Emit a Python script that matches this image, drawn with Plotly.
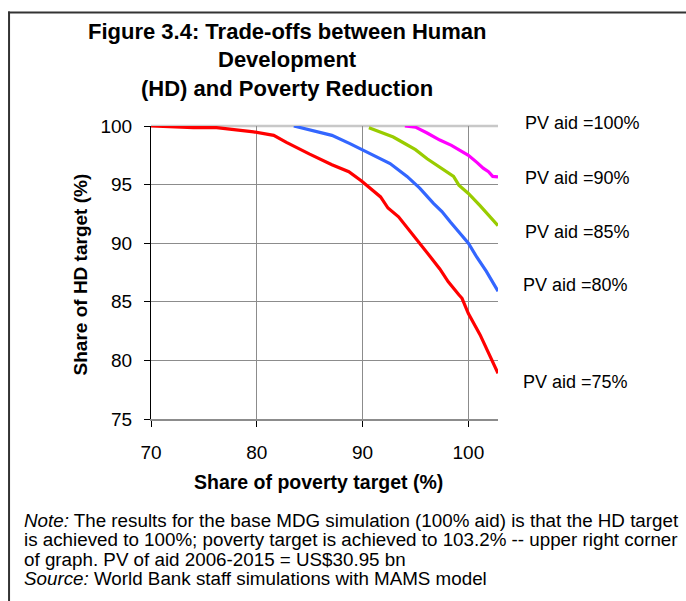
import plotly.graph_objects as go

pov_75 = [70, 74.0, 76.2, 79.7, 81.6, 82.8, 85.0, 87.1, 88.7, 89.9, 91.7, 92.4, 93.4,
          95.1, 96.4, 97.3, 98.1, 99.1, 99.4, 100.0, 101.1, 102.8]
hd_75 = [100, 99.86, 99.86, 99.5, 99.2, 98.6, 97.6, 96.7, 96.1, 95.3, 93.95, 93.0, 92.25,
         90.26, 88.85, 87.8, 86.7, 85.6, 85.3, 84.0, 82.2, 78.9]

pov_80 = [83.5, 85.3, 87.1, 88.8, 89.9, 91.0, 92.6, 94.2, 95.4, 96.7, 97.5, 98.3, 99.4,
          100.0, 100.8, 101.7, 102.8]
hd_80 = [100, 99.6, 99.2, 98.5, 98.0, 97.5, 96.8, 95.7, 94.7, 93.4, 92.7, 91.8, 90.7,
         90.0, 88.8, 87.6, 85.9]

pov_85 = [90.6, 91.96, 92.9, 93.9, 95.0, 96.1, 97.4, 98.6, 99.1, 100.0, 101.1, 102.8]
hd_85 = [99.86, 99.35, 99.06, 98.55, 97.98, 97.2, 96.4, 95.7, 94.95, 94.24, 93.2, 91.5]

pov_90 = [94.0, 95.0, 96.1, 97.3, 98.4, 100.0, 100.8, 101.4, 101.9, 102.3, 102.8]
hd_90 = [100, 99.9, 99.4, 98.8, 98.35, 97.5, 96.9, 96.4, 96.1, 95.7, 95.66]

labels = ["PV aid =100%", "PV aid =90%", "PV aid =85%", "PV aid =80%", "PV aid =75%"]

FONT = "Arial, Liberation Sans, sans-serif"

W, H = 686, 601
# plot area in pixels (from the reference)
X0, X1, Y0, Y1 = 150.7, 498.3, 125.7, 419.3


def px(x):
    return (x - X0) / (X1 - X0)


def py(y):
    return (Y1 - y) / (Y1 - Y0)


fig = go.Figure()
for xs, ys, col in [(pov_75, hd_75, "#FF0000"), (pov_80, hd_80, "#3366FF"),
                    (pov_85, hd_85, "#99CC00"), (pov_90, hd_90, "#FF00FF")]:
    fig.add_trace(go.Scatter(x=xs, y=ys, mode="lines", line=dict(color=col, width=3.2),
                             showlegend=False))

fig.update_xaxes(
    range=[70, 102.8], tickvals=[70, 80, 90, 100], showgrid=True, gridcolor="#8c8c8c",
    gridwidth=1, showline=True, linecolor="#8c8c8c", linewidth=2, ticks="outside",
    ticklen=6, tickcolor="#000000", ticklabelstandoff=9,
    tickfont=dict(size=19, family=FONT, color="#000"), zeroline=False,
)
fig.update_yaxes(
    range=[75, 100], tickvals=[75, 80, 85, 90, 95, 100], showgrid=True, gridcolor="#8c8c8c",
    gridwidth=1, showline=True, linecolor="#000000", linewidth=1, ticks="outside",
    ticklen=6, tickcolor="#000000", ticklabelstandoff=8,
    tickfont=dict(size=19, family=FONT, color="#000"), zeroline=False,
)

shapes = [
    # light top line at 100
    dict(type="line", xref="paper", yref="paper", x0=0, x1=1, y0=1, y1=1,
         line=dict(color="#c8c8c8", width=2.5), layer="below"),
    # frame of the figure box (left and top only)
    dict(type="line", xref="paper", yref="paper", x0=px(8.5), x1=px(8.5), y0=py(11), y1=py(610),
         line=dict(color="#333333", width=2)),
    dict(type="line", xref="paper", yref="paper", x0=px(7.5), x1=px(700), y0=py(12), y1=py(12),
         line=dict(color="#333333", width=2)),
]

ann = []
title_lines = [("Figure 3.4: Trade-offs between Human", 31),
               ("Development", 59), ("(HD) and Poverty Reduction", 88)]
for t, y in title_lines:
    ann.append(dict(text="<b>" + t + "</b>", x=px(287), y=py(y), xref="paper", yref="paper",
                    showarrow=False, xanchor="center", yanchor="middle",
                    font=dict(size=22, family=FONT, color="#000")))

# axis titles
ann.append(dict(text="<b>Share of poverty target (%)</b>", x=px(318), y=py(482),
                xref="paper", yref="paper", showarrow=False, xanchor="center",
                yanchor="middle", font=dict(size=19.5, family=FONT, color="#000")))
ann.append(dict(text="<b>Share of HD target (%)</b>", x=px(81), y=py(274), textangle=-90,
                xref="paper", yref="paper", showarrow=False, xanchor="center",
                yanchor="middle", font=dict(size=19, family=FONT, color="#000")))

label_pos = [(523, 123), (523, 178), (523, 232), (521, 285), (521, 382)]
for t, (x, y) in zip(labels, label_pos):
    ann.append(dict(text=t, x=px(x), y=py(y), xref="paper", yref="paper", showarrow=False,
                    xanchor="left", yanchor="middle",
                    font=dict(size=18, family=FONT, color="#000")))

note_lines = [
    "<i>Note:</i> The results for the base MDG simulation (100% aid) is that the HD target",
    "is achieved to 100%; poverty target is achieved to 103.2% -- upper right corner",
    "of graph. PV of aid 2006-2015 = US$30.95 bn",
    "<i>Source:</i> World Bank staff simulations with MAMS model",
]
for i, t in enumerate(note_lines):
    ann.append(dict(text=t, x=px(21), y=py(521 + 19.3 * i), xref="paper", yref="paper",
                    showarrow=False, xanchor="left", yanchor="middle",
                    font=dict(size=18.8, family=FONT, color="#000")))

fig.update_layout(
    width=W, height=H,
    margin=dict(l=X0, r=W - X1, t=Y0, b=H - Y1, pad=0),
    plot_bgcolor="white", paper_bgcolor="white",
    shapes=shapes, annotations=ann,
    font=dict(family=FONT, color="#000"),
)

# drop the browser's default 8px body margin so the figure fills the window
fig.write_html(
    "out.html", config={"displayModeBar": False},
    post_script=("document.body.style.margin='0';"
                 "document.body.style.overflow='hidden';"
                 "document.documentElement.style.overflow='hidden';"),
)
